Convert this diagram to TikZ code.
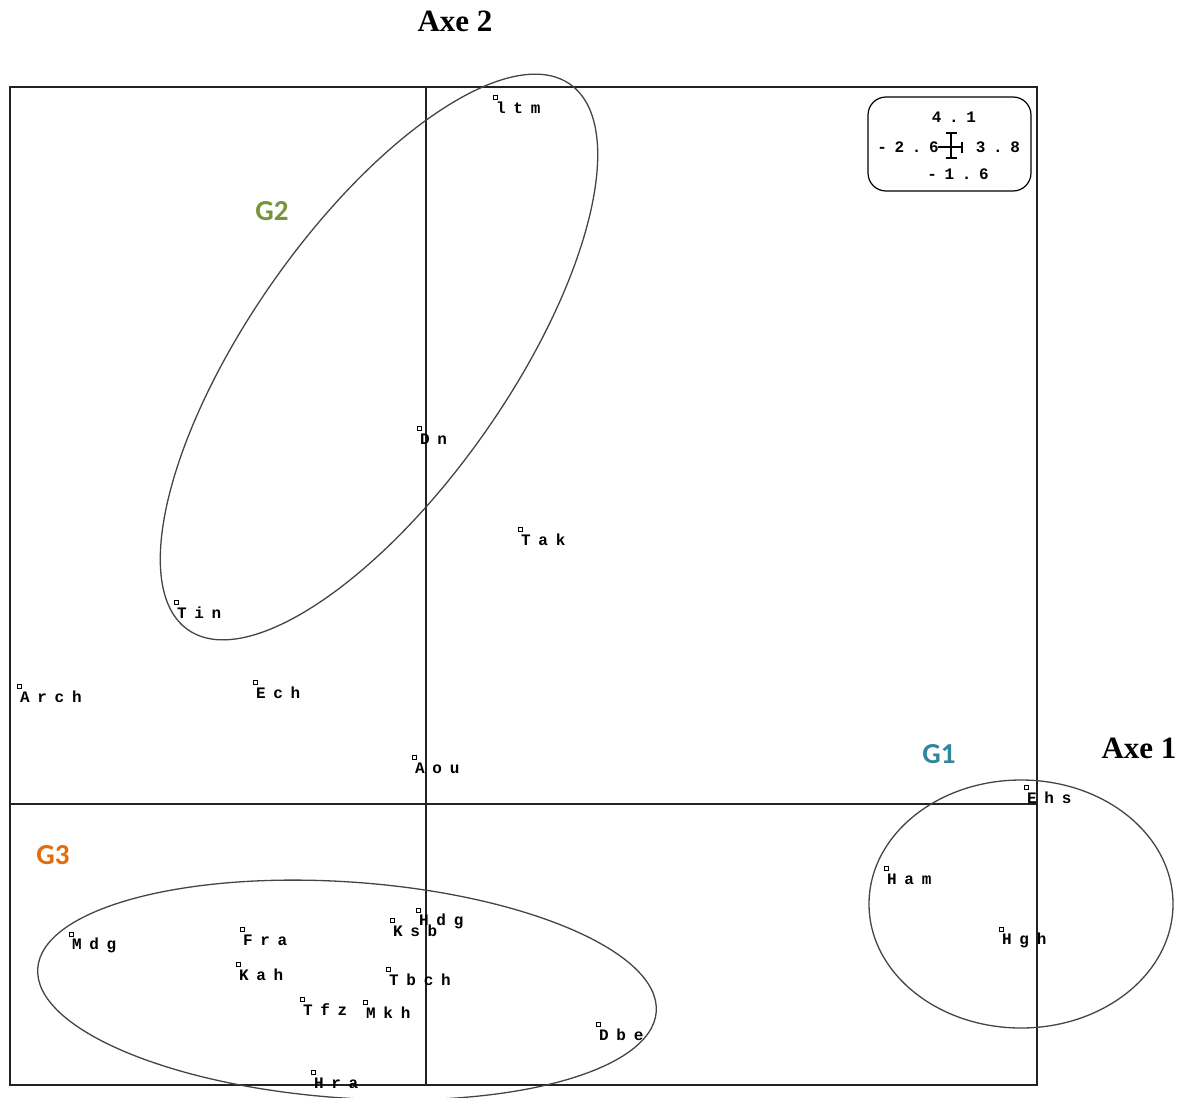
\documentclass[tikz,border=0pt]{standalone}
\usepackage{fontspec}
\setmainfont{Liberation Serif}
\newfontfamily\ptfont[LetterSpace=48]{Liberation Mono}
\newfontfamily\gfont{Carlito}
\definecolor{gone}{HTML}{31859C}
\definecolor{gtwo}{HTML}{77933C}
\definecolor{gthree}{HTML}{E46C0A}
\definecolor{axis}{HTML}{222222}
\definecolor{ell}{HTML}{444444}
\begin{document}
\begin{tikzpicture}[x=1pt,y=1pt,
  frame/.style={draw=axis,line width=1.5pt},
  group/.style={draw=ell,line width=1.3pt},
  pt/.style={draw=black,line width=0.8pt,rectangle,inner sep=0pt,minimum size=4pt},
  lab/.style={anchor=west,inner sep=0pt,font=\ptfont\bfseries\fontsize{16}{16}\selectfont},
  leg/.style={inner sep=0pt,font=\ptfont\bfseries\fontsize{16}{16}\selectfont},
  axetitle/.style={inner sep=0pt,font=\bfseries\fontsize{31}{31}\selectfont},
  gtitle/.style={inner sep=0pt,font=\gfont\bfseries\fontsize{29}{29}\selectfont}]
\useasboundingbox (0,0) rectangle (1185,-1097);
\clip (0,0) rectangle (1185,-1097);
% frame and axes
\draw[frame] (10,-87) rectangle (1037,-1085);
\draw[frame] (426,-87) -- (426,-1085);
\draw[frame] (10,-804) -- (1037,-804);
% axis titles
\node[axetitle] (axe2) at (455,-21) {Axe 2};
\node[axetitle] (axe1) at (1139,-748) {Axe 1};
% group ellipses
\draw[group] (379,-357) ellipse[x radius=333,y radius=130,rotate=55];
\draw[group] (347,-990) ellipse[x radius=310,y radius=108,rotate=-4];
\draw[group] (1021,-904) ellipse[x radius=152,y radius=124];
% group labels
\node[gtitle,text=gtwo] (g2) at (272,-211) {G2};
\node[gtitle,text=gone] (g1) at (939,-754) {G1};
\node[gtitle,text=gthree] (g3) at (53,-855) {G3};
% legend
\draw[line width=1.2pt,rounded corners=18pt] (868,-97) rectangle (1031,-191);
\node[leg] (l41) at (954,-117) {4.1};
\node[leg] (lm26) at (908,-147) {-2.6};
\node[leg] (l38) at (998,-147) {3.8};
\node[leg] (lm16) at (958,-174) {-1.6};
\draw[line width=1.2pt] (951,-133) -- (951,-158);
\draw[line width=1.2pt] (946,-133) -- (957,-133);
\draw[line width=1.2pt] (946,-158) -- (957,-158);
\draw[line width=1.2pt] (938,-147) -- (962,-147);
\draw[line width=1.2pt] (962,-142) -- (962,-153);
% points
\foreach \n/\x/\y in {ltm/495/97, Dn/419/428, Tak/520/529, Tin/176/602,
  Arch/19/686, Ech/255/682, Aou/414/757, Ehs/1026/787, Ham/886/868,
  Hgh/1001/929, Hdg/418/910, Ksb/392/920, Fra/242/929, Mdg/71/934,
  Kah/238/964, Tbch/388/969, Tfz/302/999, Mkh/365/1002, Dbe/598/1024,
  Hra/313/1072}{
  \node[pt] (p\n) at (\x,-\y) {};
  \node[lab] (t\n) at (\x+1,-\y-11) {\n};
}
\end{tikzpicture}
\end{document}
